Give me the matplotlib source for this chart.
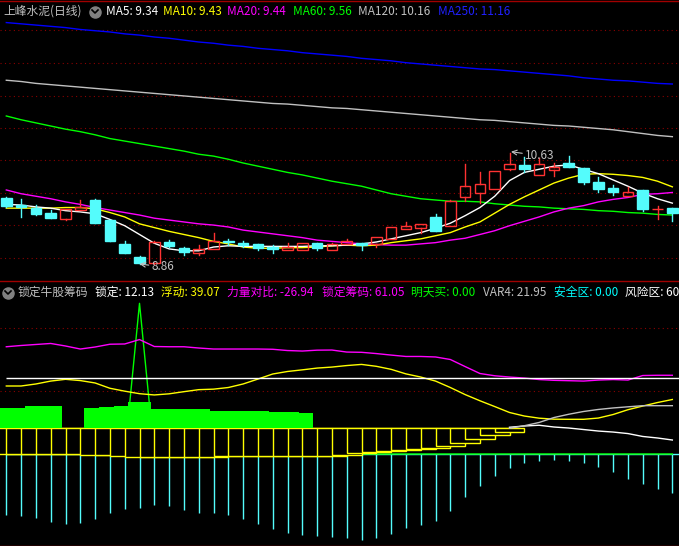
import numpy as np
import matplotlib
matplotlib.use('Agg')
import matplotlib.pyplot as plt
from matplotlib.patches import Rectangle
from matplotlib.lines import Line2D

plt.rcParams['font.family'] = ['Noto Sans CJK SC', 'DejaVu Sans']

# ---------------- price panel (daily candles + moving averages) ----------------
opens = [9.91, 9.80, 9.75, 9.67, 9.58, 9.72, 9.88, 9.56, 9.18, 8.97,
         8.87, 9.21, 9.12, 9.04, 9.10, 9.23, 9.20, 9.18, 9.13, 9.08,
         9.08, 9.20, 9.08, 9.18, 9.19, 9.18, 9.26, 9.42, 9.44, 9.61,
         9.47, 9.93, 9.99, 10.06, 10.38, 10.44, 10.28, 10.36, 10.47, 10.39,
         10.17, 10.07, 9.95, 10.04, 9.73, 9.75]
highs = [9.93, 9.90, 9.80, 9.72, 9.74, 9.88, 9.90, 9.56, 9.23, 8.99,
         9.22, 9.24, 9.13, 9.16, 9.35, 9.26, 9.23, 9.18, 9.16, 9.19,
         9.20, 9.20, 9.20, 9.26, 9.20, 9.29, 9.45, 9.53, 9.50, 9.66,
         9.88, 10.46, 10.33, 10.34, 10.63, 10.57, 10.55, 10.47, 10.58, 10.39,
         10.25, 10.12, 10.09, 10.04, 9.79, 9.75]
lows = [9.77, 9.61, 9.64, 9.59, 9.56, 9.72, 9.51, 9.22, 9.03, 8.86,
        8.86, 9.13, 9.00, 9.00, 9.10, 9.16, 9.13, 9.08, 9.04, 9.08,
        9.08, 9.08, 9.08, 9.18, 9.08, 9.13, 9.26, 9.42, 9.35, 9.39,
        9.47, 9.86, 9.83, 10.06, 10.36, 10.33, 10.28, 10.26, 10.41, 10.14,
        10.01, 9.96, 9.95, 9.71, 9.58, 9.55]
closes = [9.78, 9.77, 9.66, 9.59, 9.74, 9.77, 9.51, 9.23, 9.04, 8.88,
          9.21, 9.15, 9.05, 9.10, 9.23, 9.21, 9.16, 9.12, 9.10, 9.13,
          9.20, 9.12, 9.18, 9.23, 9.16, 9.29, 9.45, 9.47, 9.50, 9.39,
          9.86, 10.10, 10.14, 10.34, 10.46, 10.38, 10.46, 10.41, 10.41, 10.17,
          10.06, 10.00, 10.01, 9.74, 9.74, 9.67]

ma5 = [9.81, 9.80, 9.77, 9.75, 9.71, 9.69, 9.66, 9.57, 9.47, 9.33,
       9.19, 9.10, 9.07, 9.07, 9.13, 9.15, 9.14, 9.14, 9.14, 9.14,
       9.14, 9.15, 9.15, 9.16, 9.18, 9.21, 9.26, 9.31, 9.36, 9.43,
       9.51, 9.63, 9.76, 9.94, 10.19, 10.32, 10.37, 10.42, 10.44, 10.37,
       10.30, 10.20, 10.10, 9.99, 9.90, 9.83]
ma10 = [9.75, 9.75, 9.75, 9.75, 9.76, 9.76, 9.74, 9.68, 9.61, 9.50,
        9.44, 9.38, 9.33, 9.28, 9.22, 9.18, 9.13, 9.11, 9.11, 9.12,
        9.12, 9.13, 9.15, 9.16, 9.15, 9.16, 9.20, 9.23, 9.26, 9.31,
        9.36, 9.45, 9.53, 9.67, 9.81, 9.93, 10.04, 10.15, 10.23, 10.29,
        10.30, 10.29, 10.27, 10.24, 10.18, 10.09]
ma20 = [10.04, 9.98, 9.94, 9.90, 9.85, 9.81, 9.76, 9.72, 9.68, 9.64,
        9.59, 9.56, 9.53, 9.50, 9.48, 9.45, 9.40, 9.37, 9.34, 9.31,
        9.28, 9.24, 9.22, 9.20, 9.18, 9.17, 9.16, 9.16, 9.18, 9.20,
        9.24, 9.27, 9.33, 9.39, 9.47, 9.54, 9.61, 9.69, 9.75, 9.79,
        9.85, 9.89, 9.92, 9.97, 9.98, 10.00]
ma60 = [11.22, 11.16, 11.11, 11.06, 11.01, 10.97, 10.92, 10.86, 10.82, 10.78,
        10.74, 10.70, 10.66, 10.61, 10.58, 10.53, 10.47, 10.42, 10.37, 10.32,
        10.28, 10.23, 10.18, 10.14, 10.10, 10.04, 9.98, 9.94, 9.90, 9.88,
        9.86, 9.86, 9.85, 9.82, 9.80, 9.78, 9.77, 9.75, 9.74, 9.73,
        9.71, 9.70, 9.68, 9.67, 9.65, 9.64]
ma120 = [11.79, 11.77, 11.74, 11.72, 11.70, 11.68, 11.66, 11.64, 11.62, 11.60,
         11.58, 11.56, 11.54, 11.52, 11.50, 11.48, 11.46, 11.44, 11.42, 11.41,
         11.39, 11.37, 11.35, 11.34, 11.32, 11.30, 11.28, 11.26, 11.24, 11.22,
         11.20, 11.18, 11.16, 11.15, 11.13, 11.11, 11.09, 11.07, 11.06, 11.04,
         11.02, 11.00, 10.97, 10.94, 10.91, 10.89]
ma250 = [12.71, 12.69, 12.67, 12.65, 12.63, 12.60, 12.58, 12.56, 12.53, 12.51,
         12.48, 12.46, 12.43, 12.40, 12.38, 12.35, 12.33, 12.30, 12.28, 12.26,
         12.23, 12.21, 12.19, 12.17, 12.14, 12.12, 12.10, 12.07, 12.05, 12.03,
         12.01, 11.99, 11.97, 11.96, 11.94, 11.92, 11.90, 11.88, 11.86, 11.83,
         11.81, 11.79, 11.78, 11.76, 11.74, 11.73]
price_grid = [8.955, 9.481, 9.997, 10.513, 11.033, 11.544, 12.06, 12.587]

top_title = '上峰水泥(日线)'
top_labels = ['MA5: 9.34', 'MA10: 9.43', 'MA20: 9.44', 'MA60: 9.56', 'MA120: 10.16', 'MA250: 11.16']

# ---------------- indicator panel ----------------
lock_chips = [85.0, 86.0, 86.8, 87.6, 85.6, 83.2, 84.8, 87.0, 87.2, 90.7,
              85.2, 85.0, 85.0, 84.0, 83.2, 83.2, 83.2, 83.2, 83.0, 82.0,
              81.6, 82.3, 82.4, 80.8, 80.6, 79.6, 78.4, 77.3, 77.3, 76.9,
              74.9, 69.3, 63.8, 62.0, 61.0, 60.2, 59.0, 58.4, 58.1, 57.8,
              58.6, 59.0, 58.6, 62.2, 62.4, 62.4]
float_line = [53.9, 53.9, 55.5, 57.8, 59.2, 58.2, 56.3, 52.1, 49.8, 47.8,
              46.8, 47.7, 49.4, 51.0, 51.4, 52.7, 55.5, 59.4, 63.4, 65.4,
              66.7, 68.1, 68.9, 70.1, 71.0, 69.5, 67.1, 63.5, 61.0, 57.8,
              52.7, 47.1, 42.2, 37.6, 32.9, 30.1, 28.4, 27.6, 27.5, 27.5,
              28.5, 31.3, 35.1, 38.0, 40.8, 43.2]
nan = np.nan
green_top = [36.5, 36.5, 38.0, 38.0, nan, nan, 36.5, 37.2, 38.0, 41.2,
             35.7, 35.7, 35.7, 35.7, 34.1, 34.1, 34.1, 34.1, 33.3, 33.3,
             32.5] + [nan] * 25
green_base = 20.4
box_bottom = [-0.2, -0.2, -0.2, -0.2, -0.2, -0.2, -1.0, -1.0, -1.8, -2.6,
              -2.6, -2.0, -2.6, -2.6, -2.4, -1.8, -1.8, -1.8, -1.8, -1.8,
              -1.8, -1.8, -1.2, -0.8, 0.6, 1.4, 2.1, 2.9, 3.7, 4.5,
              6.1, 8.5, 11.7, 15.1, 17.7] + [nan] * 11
box_top = 20.4
power = [-48.3, -49.1, -50.7, -53.9, -55.5, -54.7, -51.5, -46.8, -43.6, -42.8,
         -40.4, -41.2, -44.4, -46.8, -46.8, -48.3, -51.5, -55.5, -59.4, -62.6,
         -64.2, -65.0, -65.8, -66.6, -68.1, -66.6, -63.4, -58.6, -56.3, -53.1,
         -45.2, -34.1, -25.4, -17.4, -11.1, -7.1, -5.5, -4.8, -5.5, -7.1,
         -10.3, -14.3, -19.8, -23.8, -27.7, -30.9]
buy_signal = [0] * 9 + [119.4] + [0] * 36
white_line = [nan] * 34 + [21.2, 22.2, 22.8, 21.4, 20.6, 19.4, 18.2, 17.4, 16.2, 13.9, 12.7, 11.1]
gray_line = [nan] * 34 + [20.4, 22.4, 25.0, 28.9, 31.5, 33.7, 35.3, 36.5, 37.4, 38.3, 38.3, 38.3]
risk_level = 60
safe_level = 0
ind_grid = [50, 100]

ind_title = '锁定牛股筹码'
ind_labels = ['锁定: 12.13', '浮动: 39.07', '力量对比: -26.94', '锁定筹码: 61.05',
              '明天买: 0.00', 'VAR4: 21.95', '安全区: 0.00', '风险区: 60.00']

RED = '#ff3232'
CYAN = '#54fcfc'
GRID = '#8b0000'
W, H = 679, 546

fig = plt.figure(figsize=(W / 100, H / 100), dpi=100, facecolor='black')
ax = fig.add_axes([0, 266 / H, 1, 280 / H])
ax2 = fig.add_axes([0, 0, 1, 266 / H])
for a in (ax, ax2):
    a.set_facecolor('black')
    a.set_xticks([])
    a.set_yticks([])
    for s in a.spines.values():
        s.set_visible(False)
    a.set_xlim(-0.426, 45.45)
ax.set_ylim(8.604, 13.07)
ax2.set_ylim(-72.9, 137.9)

xs = np.arange(len(opens))

# price panel
for g in price_grid:
    ax.axhline(g, color=GRID, lw=0.8, ls=(0, (1, 3)), zorder=0)
for vals, col in [(ma250, '#0000ff'), (ma120, '#c0c0c0'), (ma60, '#00ff00'),
                  (ma20, '#ff00ff'), (ma10, '#ffff00'), (ma5, 'white')]:
    ax.plot(xs, vals, color=col, lw=1, zorder=2)

bw = 0.72
for i in xs:
    o, h, l, c = opens[i], highs[i], lows[i], closes[i]
    if c >= o:
        ax.add_patch(Rectangle((i - bw / 2, o), bw, c - o, facecolor='none',
                               edgecolor=RED, lw=1, zorder=3))
        ax.plot([i, i], [c, h], color=RED, lw=1, zorder=3)
        ax.plot([i, i], [l, o], color=RED, lw=1, zorder=3)
    else:
        ax.plot([i, i], [l, h], color=CYAN, lw=1, zorder=3)
        ax.add_patch(Rectangle((i - bw / 2, c), bw, o - c, facecolor=CYAN,
                               edgecolor=CYAN, lw=1, zorder=3))

hi_i = int(np.argmax(highs))
lo_i = int(np.argmin(lows))
ax.annotate(f'{highs[hi_i]:.2f}', xy=(hi_i + 0.1, highs[hi_i] + 0.02), xytext=(14, -4),
            textcoords='offset pixels', color='#c0c0c0', fontsize=8.5, va='center',
            arrowprops=dict(arrowstyle='->', color='#c0c0c0', lw=0.8, shrinkA=0, shrinkB=0))
ax.annotate(f'{lows[lo_i]:.2f}', xy=(lo_i, lows[lo_i]), xytext=(12, -3),
            textcoords='offset pixels', color='#c0c0c0', fontsize=8.5, va='center',
            arrowprops=dict(arrowstyle='->', color='#c0c0c0', lw=0.8, shrinkA=0, shrinkB=0))

# indicator panel
for g in ind_grid:
    ax2.axhline(g, color=GRID, lw=0.8, ls=(0, (1, 3)), zorder=0)
right = ax2.get_xlim()[1]
ax2.hlines(safe_level, xs[0], right, color=CYAN, lw=1, zorder=1)
ax2.vlines(xs, 0, power, color=CYAN, lw=1, zorder=1)
ax2.plot(xs, buy_signal, color='#00ff00', lw=1, zorder=1)
for i, b in enumerate(box_bottom):
    if not np.isnan(b):
        ax2.add_patch(Rectangle((i - 1, b), 2, box_top - b, facecolor='black',
                                edgecolor='#ffff00', lw=1, zorder=2))
for i, t in enumerate(green_top):
    if not np.isnan(t):
        ax2.add_patch(Rectangle((i - 0.745, green_base), 1.49, t - green_base,
                                facecolor='#00ff00', edgecolor='none', zorder=3))
ax2.plot(xs, lock_chips, color='#ff00ff', lw=1, zorder=4)
ax2.plot(xs, float_line, color='#ffff00', lw=1, zorder=4)
ax2.hlines(risk_level, xs[0], right, color='white', lw=1, zorder=4)
ax2.plot(xs, white_line, color='white', lw=1, zorder=4)
ax2.plot(xs, gray_line, color='#c0c0c0', lw=1, zorder=4)

# frame lines
for yp in (0.5, 280.5, 545.5):
    fig.add_artist(Line2D([0, 1], [1 - yp / H] * 2, transform=fig.transFigure,
                          color='#a00000', lw=1))


def icon(cx, cy):
    fig.add_artist(Line2D([cx / W], [1 - cy / H], marker='o', markersize=8,
                          color='#808080', lw=0, transform=fig.transFigure))
    fig.add_artist(Line2D([(cx - 3) / W, cx / W, (cx + 3) / W],
                          [1 - (cy - 1.5) / H, 1 - (cy + 1.5) / H, 1 - (cy - 1.5) / H],
                          color='black', lw=1.2, transform=fig.transFigure))


def header(items, y):
    for text, xp, col in items:
        fig.text(xp / W, 1 - y / H, text, color=col, fontsize=8.5, va='center', ha='left')


header([(top_title, 3, '#c0c0c0')] + list(zip(top_labels, [106, 163, 227, 293, 358, 438],
       ['white', '#ffff00', '#ff00ff', '#00ff00', '#c0c0c0', '#2020ff'])), 11.5)
icon(95, 11.5)
header([(ind_title, 18, '#c0c0c0')] + list(zip(ind_labels, [95, 161, 227, 322, 411, 483, 554, 625],
       ['white', '#ffff00', '#ff00ff', '#ff00ff', '#00ff00', '#c0c0c0', '#00ffff', 'white'])), 292.5)
icon(8, 292.5)

fig.savefig('out.png', dpi=100, facecolor='black')
